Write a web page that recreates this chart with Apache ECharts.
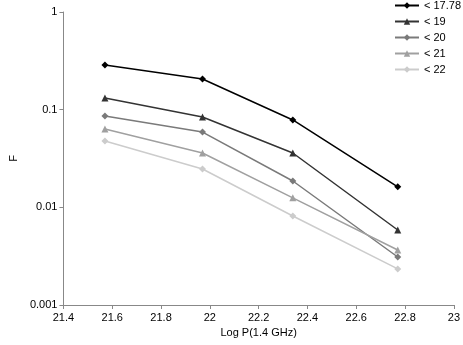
<!DOCTYPE html>
<html>
<head>
<meta charset="utf-8">
<script src="https://cdn.jsdelivr.net/npm/echarts@6/dist/echarts.min.js"></script>
<style>
    html, body { margin: 0; padding: 0; background: #fff; }
    #chart { width: 463px; height: 345px; }
</style>
</head>
<body>
<div id="chart"></div>
<script>
let xValues = [21.57, 21.97, 22.34, 22.77];
let seriesNames = ['< 17.78', '< 19', '< 20', '< 21', '< 22'];
let s1778 = [0.286, 0.206, 0.0784, 0.0162];
let s19 = [0.132, 0.0841, 0.036, 0.00586];
let s20 = [0.0861, 0.059, 0.0186, 0.0031];
let s21 = [0.0634, 0.036, 0.0125, 0.00366];
let s22 = [0.0478, 0.0247, 0.00815, 0.00234];

let seriesValues = [s1778, s19, s20, s21, s22];
let colors = ['#000000', '#333333', '#7a7a7a', '#a0a0a0', '#cccccc'];
let symbols = ['diamond', 'triangle', 'diamond', 'triangle', 'diamond'];

let myChart = echarts.init(document.getElementById('chart'));

let series = [];
for (let i = 0; i < seriesNames.length; i++) {
    series.push({
        name: seriesNames[i],
        type: 'line',
        data: xValues.map((x, j) => [x, seriesValues[i][j]]),
        symbol: symbols[i],
        symbolSize: 7,
        color: colors[i],
        lineStyle: {width: 1.5, color: colors[i]},
        itemStyle: {color: colors[i]},
        animation: false
    });
}

let option = {
    animation: false,
    grid: {left: 35, right: 9, top: 12, bottom: 40},
    legend: {
        orient: 'vertical',
        right: 2,
        top: 0,
        itemWidth: 24,
        itemHeight: 8,
        itemGap: 5,
        padding: [0, 0, 0, 0],
        align: 'left',
        textStyle: {fontSize: 11, color: '#000', fontFamily: 'Liberation Sans'},
        data: seriesNames
    },
    xAxis: {
        type: 'value',
        min: 21.4,
        max: 23,
        interval: 0.2,
        name: 'Log P(1.4 GHz)',
        nameLocation: 'middle',
        nameGap: 22,
        nameTextStyle: {fontSize: 11, color: '#000', fontFamily: 'Liberation Sans'},
        axisLine: {lineStyle: {color: '#888'}},
        axisTick: {show: true, length: 4, lineStyle: {color: '#888'}},
        axisLabel: {fontSize: 11, color: '#000', fontFamily: 'Liberation Sans', margin: 7},
        splitLine: {show: false}
    },
    yAxis: {
        type: 'log',
        logBase: 10,
        min: 0.001,
        max: 1,
        name: 'F',
        nameLocation: 'middle',
        nameGap: 22,
        nameTextStyle: {fontSize: 11, color: '#000', fontFamily: 'Liberation Sans'},
        axisLine: {show: true, lineStyle: {color: '#888'}},
        axisTick: {show: true, length: 4, lineStyle: {color: '#888'}},
        axisLabel: {
            fontSize: 11, color: '#000', fontFamily: 'Liberation Sans', margin: 6,
            formatter: function (v) {
                let labels = {1: '1', 0.1: '0.1', 0.01: '0.01', 0.001: '0.001'};
                let r = Math.pow(10, Math.round(Math.log10(v)));
                return labels[r] || '';
            }
        },
        splitLine: {show: false}
    },
    series: series
};

myChart.setOption(option);
</script>
</body>
</html>
